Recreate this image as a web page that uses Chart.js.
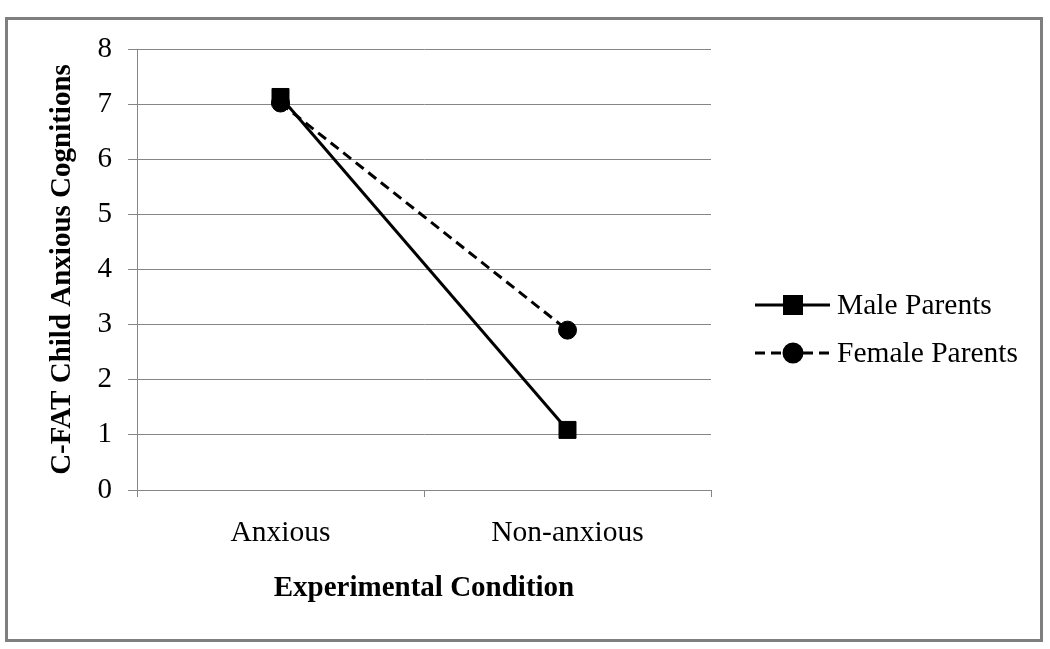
<!DOCTYPE html>
<html>
<head>
<meta charset="utf-8">
<script src="https://cdn.jsdelivr.net/npm/chart.js@4.4.1/dist/chart.umd.min.js"></script>
<style>
    body { margin: 0; background: #fff; }
    .frame {
        position: absolute; left: 5px; top: 17px;
        width: 1032px; height: 619px;
        border: 3px solid #7f7f7f;
    }
    #chart-wrap { position: absolute; left: 0; top: 0; width: 1050px; height: 649px; }
</style>
</head>
<body>
<div class="frame"></div>
<div id="chart-wrap"><canvas id="interaction-chart"></canvas></div>
<script>
const categories = ['Anxious', 'Non-anxious'];
const maleParents = [7.13, 1.09];
const femaleParents = [7.02, 2.9];
const seriesLabels = ['Male Parents', 'Female Parents'];
const yTicks = [0, 1, 2, 3, 4, 5, 6, 7, 8];

const serif = "'Liberation Serif', 'Times New Roman', serif";
const gridGray = '#868686';

// legend with line + marker sample, like the Excel one
const lineLegend = {
    id: 'lineLegend',
    afterDraw(chart) {
        const ctx = chart.ctx;
        const rows = [305, 353];
        chart.data.datasets.forEach(function (ds, i) {
            const y = rows[i];
            ctx.save();
            ctx.strokeStyle = ds.borderColor;
            ctx.lineWidth = ds.borderWidth;
            ctx.setLineDash(ds.borderDash || []);
            ctx.beginPath();
            ctx.moveTo(755, y);
            ctx.lineTo(830, y);
            ctx.stroke();
            ctx.setLineDash([]);
            Chart.helpers.drawPoint(ctx, {
                pointStyle: ds.pointStyle,
                radius: ds.pointRadius,
                borderWidth: 1
            }, 793, y);
            ctx.fillStyle = '#000';
            ctx.fill();
            ctx.font = '29.5px ' + serif;
            ctx.textBaseline = 'middle';
            ctx.fillText(ds.label, 837, y + 1);
            ctx.restore();
        });
    }
};

new Chart(document.getElementById('interaction-chart'), {
    type: 'line',
    data: {
        labels: categories,
        datasets: [{
            label: seriesLabels[0],
            data: maleParents,
            borderColor: '#000',
            backgroundColor: '#000',
            borderWidth: 3,
            pointStyle: 'rect',
            pointRadius: 12,
            pointBorderWidth: 1
        }, {
            label: seriesLabels[1],
            data: femaleParents,
            borderColor: '#000',
            backgroundColor: '#000',
            borderWidth: 3,
            borderDash: [10, 6],
            pointStyle: 'circle',
            pointRadius: 9,
            pointBorderWidth: 1
        }]
    },
    options: {
        responsive: true,
        maintainAspectRatio: false,
        animation: false,
        layout: { padding: { left: 41, right: 339, top: 49, bottom: 43 } },
        plugins: {
            legend: { display: false },
            tooltip: { enabled: false }
        },
        scales: {
            x: {
                offset: true,
                afterFit: function (scale) { scale.height = 116; },
                grid: {
                    offset: true,
                    drawOnChartArea: false,
                    drawTicks: true,
                    tickLength: 7,
                    color: gridGray
                },
                border: { color: gridGray },
                ticks: {
                    color: '#000',
                    padding: 19,
                    maxRotation: 0,
                    font: { family: serif, size: 29.5 }
                },
                title: {
                    display: true,
                    text: 'Experimental Condition',
                    color: '#000',
                    padding: { top: 0, bottom: 0 },
                    font: { family: serif, size: 29, weight: 'bold' }
                }
            },
            y: {
                min: 0,
                max: 8,
                afterFit: function (scale) { scale.width = 96; },
                afterBuildTicks: function (scale) {
                    scale.ticks = yTicks.map(v => ({ value: v }));
                },
                grid: {
                    color: gridGray,
                    tickLength: 9
                },
                border: { color: gridGray },
                ticks: {
                    color: '#000',
                    padding: 16,
                    font: { family: serif, size: 29 }
                },
                title: {
                    display: true,
                    text: 'C-FAT Child Anxious Cognitions',
                    color: '#000',
                    padding: { top: 4, bottom: 0 },
                    font: { family: serif, size: 29, weight: 'bold' }
                }
            }
        }
    },
    plugins: [lineLegend]
});
</script>
</body>
</html>
